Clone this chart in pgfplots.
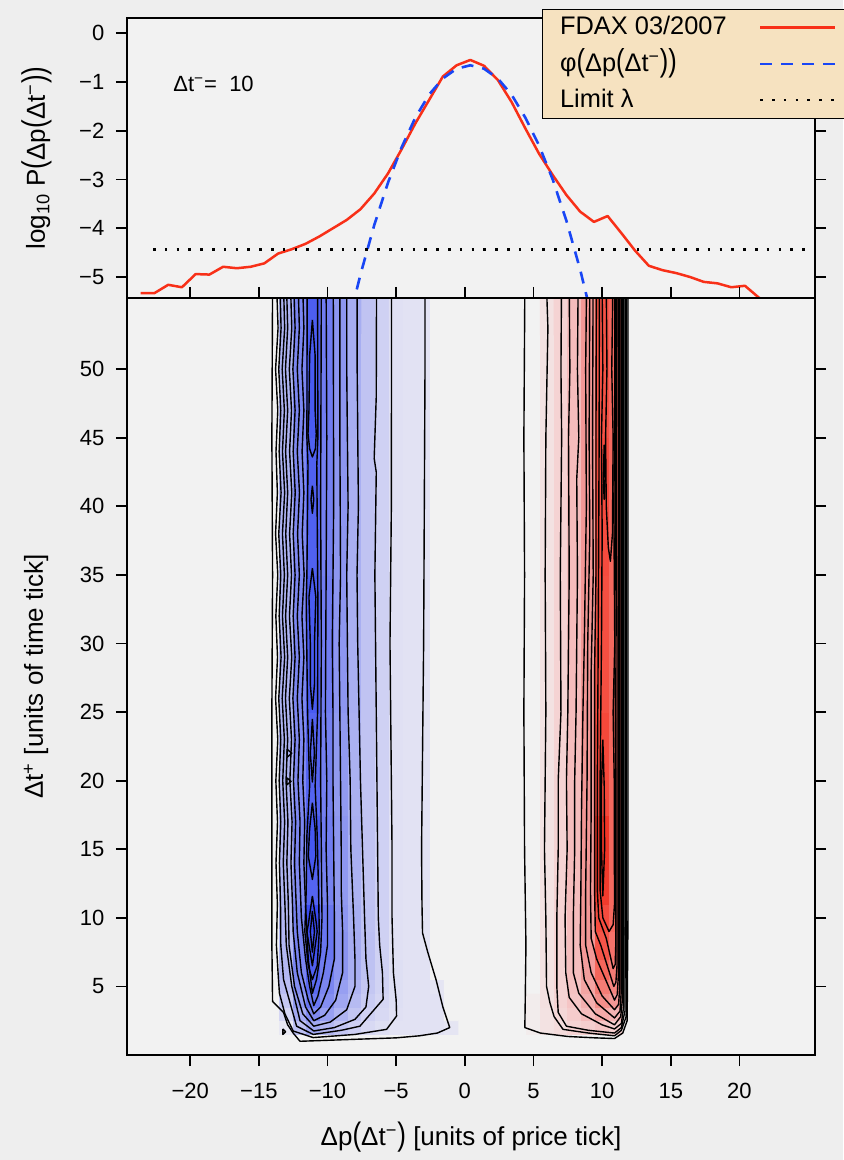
\documentclass[border=0pt]{standalone}
\usepackage{fontspec}
\setmainfont{Liberation Sans}
\usepackage{pgfplots}
\usepackage{pgfplotstable}
\pgfplotsset{compat=1.18}
\definecolor{pagebg}{RGB}{238,238,238}
\definecolor{panelbg}{RGB}{242,242,242}
\definecolor{legbg}{RGB}{246,226,192}
\definecolor{fdaxred}{RGB}{248,48,24}
\definecolor{phiblue}{RGB}{25,70,245}
\pgfplotsset{colormap={bluered}{rgb255(0cm)=(45,60,240); rgb255(1cm)=(70,88,240); rgb255(3cm)=(105,118,240); rgb255(4.5cm)=(132,142,240); rgb255(6cm)=(160,167,241); rgb255(7.5cm)=(188,192,242); rgb255(8.5cm)=(207,209,243); rgb255(9.5cm)=(226,226,243); rgb255(10cm)=(242,242,242); rgb255(10.5cm)=(243,226,226); rgb255(11.2cm)=(245,211,211); rgb255(12.5cm)=(245,188,188); rgb255(14.5cm)=(243,152,150); rgb255(17cm)=(245,105,95); rgb255(19cm)=(245,72,58); rgb255(20cm)=(238,45,30)}}
\newcommand{\lp}{\scalebox{1}[1.25]{(}}
\newcommand{\rp}{\scalebox{1}[1.25]{)}}
\newcommand{\sm}{\textsuperscript{−}}
\newcommand{\fs}[1]{\fontsize{#1}{#1}\selectfont}

\pgfplotstableread[row sep=\\]{
x y c\\
-14 1 0\\ -13 1 0\\ -12 1 0\\ -11 1 0\\ -10 1 0\\ -9 1 0\\ -8 1 0\\ -7 1 0\\ -6 1 0\\ -5 1 0\\ -4 1 0\\ -3 1 0\\ -2 1 0\\ -1 1 0\\
-14 2 0\\ -13 2 -.03\\ -12 2 -.25\\ -11 2 -.40\\ -10 2 -.30\\ -9 2 -.22\\ -8 2 -.16\\ -7 2 -.10\\ -6 2 -.07\\ -5 2 -.05\\ -4 2 -.05\\ -3 2 -.05\\ -2 2 -.05\\ -1 2 -.04\\
-14 3 0\\ -13 3 -.12\\ -12 3 -.38\\ -11 3 -.58\\ -10 3 -.45\\ -9 3 -.32\\ -8 3 -.22\\ -7 3 -.15\\ -6 3 -.10\\ -5 3 -.06\\ -4 3 -.05\\ -3 3 -.05\\ -2 3 -.05\\ -1 3 0\\
-14 4 0\\ -13 4 -.20\\ -12 4 -.48\\ -11 4 -.70\\ -10 4 -.55\\ -9 4 -.40\\ -8 4 -.28\\ -7 4 -.18\\ -6 4 -.12\\ -5 4 -.07\\ -4 4 -.05\\ -3 4 -.05\\ -2 4 -.05\\ -1 4 0\\
-14 5 0\\ -13 5 -.26\\ -12 5 -.55\\ -11 5 -.78\\ -10 5 -.60\\ -9 5 -.45\\ -8 5 -.32\\ -7 5 -.21\\ -6 5 -.14\\ -5 5 -.07\\ -4 5 -.05\\ -3 5 -.05\\ -2 5 -.04\\ -1 5 0\\
-14 6 0\\ -13 6 -.30\\ -12 6 -.60\\ -11 6 -.85\\ -10 6 -.65\\ -9 6 -.50\\ -8 6 -.35\\ -7 6 -.24\\ -6 6 -.15\\ -5 6 -.07\\ -4 6 -.05\\ -3 6 -.05\\ -2 6 0\\ -1 6 0\\
-14 8 0\\ -13 8 -.30\\ -12 8 -.62\\ -11 8 -.92\\ -10 8 -.70\\ -9 8 -.52\\ -8 8 -.37\\ -7 8 -.25\\ -6 8 -.15\\ -5 8 -.06\\ -4 8 -.05\\ -3 8 -.05\\ -2 8 0\\ -1 8 0\\
-14 10 0\\ -13 10 -.30\\ -12 10 -.62\\ -11 10 -.95\\ -10 10 -.70\\ -9 10 -.50\\ -8 10 -.36\\ -7 10 -.24\\ -6 10 -.15\\ -5 10 -.06\\ -4 10 -.05\\ -3 10 -.05\\ -2 10 0\\ -1 10 0\\
-14 12 0\\ -13 12 -.32\\ -12 12 -.56\\ -11 12 -.82\\ -10 12 -.62\\ -9 12 -.48\\ -8 12 -.34\\ -7 12 -.23\\ -6 12 -.15\\ -5 12 -.06\\ -4 12 -.05\\ -3 12 -.05\\ -2 12 0\\ -1 12 0\\
-14 15 0\\ -13 15 -.32\\ -12 15 -.60\\ -11 15 -.90\\ -10 15 -.66\\ -9 15 -.50\\ -8 15 -.35\\ -7 15 -.23\\ -6 15 -.15\\ -5 15 -.06\\ -4 15 -.05\\ -3 15 -.05\\ -2 15 0\\ -1 15 0\\
-14 20 0\\ -13 20 -.33\\ -12 20 -.58\\ -11 20 -.82\\ -10 20 -.64\\ -9 20 -.48\\ -8 20 -.34\\ -7 20 -.23\\ -6 20 -.15\\ -5 20 -.06\\ -4 20 -.05\\ -3 20 -.05\\ -2 20 0\\ -1 20 0\\
-14 30 0\\ -13 30 -.33\\ -12 30 -.60\\ -11 30 -.88\\ -10 30 -.66\\ -9 30 -.50\\ -8 30 -.35\\ -7 30 -.23\\ -6 30 -.15\\ -5 30 -.06\\ -4 30 -.05\\ -3 30 -.05\\ -2 30 0\\ -1 30 0\\
-14 40 0\\ -13 40 -.33\\ -12 40 -.58\\ -11 40 -.84\\ -10 40 -.64\\ -9 40 -.50\\ -8 40 -.35\\ -7 40 -.23\\ -6 40 -.15\\ -5 40 -.06\\ -4 40 -.05\\ -3 40 -.05\\ -2 40 0\\ -1 40 0\\
-14 50 0\\ -13 50 -.33\\ -12 50 -.60\\ -11 50 -.88\\ -10 50 -.66\\ -9 50 -.50\\ -8 50 -.36\\ -7 50 -.23\\ -6 50 -.15\\ -5 50 -.06\\ -4 50 -.05\\ -3 50 -.05\\ -2 50 0\\ -1 50 0\\
-14 55 0\\ -13 55 -.33\\ -12 55 -.60\\ -11 55 -.86\\ -10 55 -.66\\ -9 55 -.50\\ -8 55 -.36\\ -7 55 -.23\\ -6 55 -.15\\ -5 55 -.06\\ -4 55 -.05\\ -3 55 -.05\\ -2 55 0\\ -1 55 0\\
}\bluegrid

\pgfplotstableread[row sep=\\]{
x y c\\
5 1 0\\ 6 1 0\\ 7 1 0\\ 8 1 0\\ 9 1 0\\ 10 1 0\\ 11 1 0\\ 12 1 0\\
5 2 .02\\ 6 2 .05\\ 7 2 .08\\ 8 2 .12\\ 9 2 .15\\ 10 2 .20\\ 11 2 .15\\ 12 2 0\\
5 3 .02\\ 6 3 .05\\ 7 3 .10\\ 8 3 .16\\ 9 3 .25\\ 10 3 .35\\ 11 3 .30\\ 12 3 0\\
5 4 .02\\ 6 4 .06\\ 7 4 .12\\ 8 4 .20\\ 9 4 .32\\ 10 4 .50\\ 11 4 .45\\ 12 4 0\\
5 5 0\\ 6 5 .06\\ 7 5 .12\\ 8 5 .22\\ 9 5 .38\\ 10 5 .60\\ 11 5 .55\\ 12 5 0\\
5 6 0\\ 6 6 .05\\ 7 6 .12\\ 8 6 .24\\ 9 6 .42\\ 10 6 .72\\ 11 6 .60\\ 12 6 0\\
5 8 0\\ 6 8 .05\\ 7 8 .12\\ 8 8 .25\\ 9 8 .45\\ 10 8 .82\\ 11 8 .65\\ 12 8 0\\
5 10 0\\ 6 10 .05\\ 7 10 .12\\ 8 10 .25\\ 9 10 .45\\ 10 10 .88\\ 11 10 .70\\ 12 10 0\\
5 12 0\\ 6 12 .05\\ 7 12 .12\\ 8 12 .25\\ 9 12 .45\\ 10 12 .95\\ 11 12 .70\\ 12 12 0\\
5 15 0\\ 6 15 .05\\ 7 15 .12\\ 8 15 .25\\ 9 15 .45\\ 10 15 .97\\ 11 15 .70\\ 12 15 0\\
5 20 0\\ 6 20 .05\\ 7 20 .12\\ 8 20 .25\\ 9 20 .45\\ 10 20 .90\\ 11 20 .70\\ 12 20 0\\
5 30 0\\ 6 30 .05\\ 7 30 .12\\ 8 30 .25\\ 9 30 .45\\ 10 30 .86\\ 11 30 .70\\ 12 30 0\\
5 40 0\\ 6 40 .05\\ 7 40 .12\\ 8 40 .25\\ 9 40 .45\\ 10 40 .88\\ 11 40 .70\\ 12 40 0\\
5 50 0\\ 6 50 .05\\ 7 50 .12\\ 8 50 .25\\ 9 50 .45\\ 10 50 .84\\ 11 50 .70\\ 12 50 0\\
5 55 0\\ 6 55 .05\\ 7 55 .12\\ 8 55 .25\\ 9 55 .45\\ 10 55 .84\\ 11 55 .70\\ 12 55 0\\
}\redgrid

\pgfplotsset{
  panel/.style={scale only axis, width=344pt, xmin=-24.6, xmax=25.5,
    axis line style={line width=0.9pt}, tick style={black, line width=0.9pt},
    major tick length=5.5pt, tick align=outside,
    axis background/.style={fill=panelbg}, axis on top,
    tick label style={font=\fs{11}}, label style={font=\fs{13}},
    yticklabel pos=left, ytick pos=both, yticklabel style={xshift=-2.3pt}},
  ct/.style={black, line width=0.7pt, line join=round},
}

\begin{document}
\begin{tikzpicture}
\fill[pagebg] (-63.5pt,-52.5pt) rectangle (358pt,527.5pt);
\useasboundingbox (-63.5pt,-52.5pt) rectangle (358pt,527.5pt);

% ---------- top panel ----------
\begin{axis}[panel, at={(0pt,378.5pt)}, anchor=south west, height=140pt,
  ymin=-5.43, ymax=0.31, xtick=\empty,
  ytick={-5,-4,-3,-2,-1,0}, yticklabels={−5,−4,−3,−2,−1,0},
  ylabel={log\textsubscript{10} P\lp Δp\lp Δt\sm\rp\rp},
  ylabel style={at={(axis description cs:-0.1192,0.5)}, anchor=base},
  legend style={at={(axis description cs:0.6032,1.032)}, anchor=north west,
    fill=legbg, draw=black, line width=0.6pt, inner xsep=6.5pt, inner ysep=0pt,
    row sep=0pt, font=\fs{12.7},
    nodes={inner sep=2.25pt, text height=10.4pt, text depth=3.2pt},
    legend cell align=left},
  legend plot pos=right,
  legend image code/.code={\path[draw=none] (0pt,0pt) -- (52pt,0pt); \draw[#1] (14.5pt,0pt) -- (52pt,0pt);},
]
\addplot[fdaxred, line width=1.25pt, line join=round] coordinates {
(-23.6,-5.33) (-22.6,-5.33) (-21.6,-5.16) (-20.6,-5.21) (-19.6,-4.94) (-18.6,-4.95)
(-17.6,-4.79) (-16.6,-4.82) (-15.6,-4.79) (-14.6,-4.72) (-13.6,-4.52) (-12.6,-4.43)
(-11.6,-4.32) (-10.6,-4.17) (-9.6,-4.0) (-8.6,-3.83) (-7.6,-3.61) (-6.6,-3.29)
(-5.6,-2.88) (-4.6,-2.38) (-3.6,-1.85) (-2.6,-1.37) (-1.6,-0.89) (-0.6,-0.66)
(0.4,-0.55) (1.4,-0.67) (2.4,-0.96) (3.4,-1.41) (4.4,-1.95) (5.4,-2.47) (6.4,-2.91)
(7.4,-3.32) (8.4,-3.66) (9.4,-3.87) (10.4,-3.75) (11.4,-4.1) (12.4,-4.46) (13.4,-4.77)
(14.4,-4.86) (15.4,-4.92) (16.4,-5.0) (17.4,-5.1) (18.4,-5.13) (19.4,-5.21) (20.4,-5.18)
(21.4,-5.42) (22.4,-5.6)};
\addlegendentry{FDAX 03/2007}
\addplot[phiblue, line width=1.3pt, dash pattern=on 6pt off 4.5pt] coordinates {
(-8.6,-6.09) (-7.6,-4.95) (-6.6,-3.94) (-5.6,-3.07) (-4.6,-2.34) (-3.6,-1.73)
(-2.6,-1.26) (-1.6,-0.93) (-0.6,-0.73) (0.4,-0.66) (1.4,-0.73) (2.4,-0.93)
(3.4,-1.26) (4.4,-1.73) (5.4,-2.3) (6.4,-3.0) (7.4,-3.85) (8.4,-4.85) (9.4,-6.0)};
\addlegendentry{φ\lp Δp\lp Δt\sm\rp\rp}
\addplot[black, line width=1.3pt, dash pattern=on 1.3pt off 4.6pt] coordinates {(-22.7,-4.43) (25.0,-4.43)};
\addlegendentry{Limit λ}
\node[anchor=base west, font=\fs{11}, inner sep=0pt] at (axis cs:-21.25,-1.2) {Δt\sm=\ \ 10};
\end{axis}

% ---------- bottom panel ----------
\begin{axis}[panel, at={(0pt,0pt)}, anchor=south west, height=378.5pt,
  ymin=0, ymax=55.19, y dir=normal,
  xtick={-20,-15,...,20}, xticklabels={−20,−15,−10,−5,0,5,10,15,20},
  xticklabel pos=bottom, xtick pos=both, xticklabel style={yshift=-5pt},
  ytick={5,10,...,50}, yticklabels={5,10,15,20,25,30,35,40,45,50},
  colormap name=bluered, point meta min=-1, point meta max=1,
  xlabel={Δp\lp Δt\sm\rp\ [units of price tick]},
  xlabel style={at={(axis description cs:0.5,0)}, anchor=base, yshift=-45pt},
  ylabel={Δt\textsuperscript{+} [units of time tick]},
  ylabel style={at={(axis description cs:-0.1221,0.5)}, anchor=base},
]
\addplot[surf, shader=flat corner, mesh input=image, mesh/cols=14, point meta=explicit] table[meta=c] {\bluegrid};
\addplot[surf, shader=flat corner, mesh input=image, mesh/cols=8, point meta=explicit] table[meta=c] {\redgrid};

% blue contours
\addplot[ct] coordinates {(-14.0,56) (-14.05,45) (-14.0,35) (-14.05,25) (-14.05,15) (-14.05,8) (-14.0,3.9) (-13.2,3.1) (-12.9,2.2) (-12.5,1.6) (-12.0,1.0) (-8.1,1.14) (-5.0,1.25) (-3.3,1.4) (-2.0,1.6) (-1.1,2.0) (-1.6,3.5) (-2.1,5.5) (-2.7,7.5) (-3.08,8.9) (-3.12,11) (-3.15,15) (-3.05,25) (-3.0,30) (-2.95,40) (-2.9,50) (-2.9,56)};
\addplot[ct] coordinates {(-13.7,56) (-13.6,53) (-13.78,50) (-13.62,47) (-13.75,44) (-13.65,41) (-13.78,38) (-13.62,35) (-13.76,32) (-13.64,29) (-13.78,26) (-13.62,23) (-13.76,20) (-13.64,17) (-13.75,14) (-13.65,11) (-13.72,8) (-13.6,6) (-13.5,4.5) (-13.1,3.0) (-12.5,1.75) (-11.04,1.27) (-8.0,1.5) (-5.7,1.87) (-4.97,2.84) (-5.0,4.0) (-5.2,6.0) (-5.25,8) (-5.3,10) (-5.3,15) (-5.35,20) (-5.4,25) (-5.45,30) (-5.4,35) (-5.35,40) (-5.34,50) (-5.34,56)};
\addplot[ct] coordinates {(-13.46,56) (-13.38,53) (-13.55,50) (-13.4,47) (-13.52,44) (-13.38,41) (-13.55,38) (-13.4,35) (-13.52,32) (-13.38,29) (-13.55,26) (-13.4,23) (-13.52,20) (-13.4,17) (-13.5,14) (-13.42,11) (-13.4,8) (-13.2,5.5) (-12.25,2.1) (-11.04,1.5) (-9.0,1.8) (-7.64,2.1) (-5.95,4.06) (-6.0,6) (-6.2,8) (-6.3,10) (-6.35,15) (-6.4,20) (-6.45,25) (-6.5,30) (-6.55,35) (-6.45,42.5) (-6.6,43.5) (-6.45,48) (-6.43,56)};
\addplot[ct] coordinates {(-13.2,56) (-13.12,53) (-13.3,50) (-13.14,47) (-13.28,44) (-13.12,41) (-13.28,38) (-13.14,35) (-13.28,32) (-13.12,29) (-13.3,26) (-13.14,23) (-13.26,20) (-13.12,17) (-13.22,14) (-13.1,11) (-13.0,8) (-12.6,5) (-12.0,2.5) (-11.0,1.75) (-9.5,2.0) (-8.0,2.6) (-7.2,3.5) (-7.0,5) (-7.2,7) (-7.3,10) (-7.45,15) (-7.6,20) (-7.7,25) (-7.8,30) (-7.85,35) (-7.75,40) (-7.84,50) (-7.84,56)};
\addplot[ct] coordinates {(-12.98,56) (-12.9,53) (-13.06,50) (-12.9,47) (-13.05,44) (-12.9,41) (-13.04,38) (-12.9,35) (-13.05,32) (-12.9,29) (-13.06,26) (-12.9,23) (-13.02,20) (-12.88,17) (-12.96,14) (-12.85,11) (-12.8,8) (-12.4,5) (-11.8,3) (-11.0,2.1) (-9.8,2.4) (-8.6,3.3) (-8.0,5) (-8.0,7) (-8.1,10) (-8.3,15) (-8.35,20) (-8.5,25) (-8.55,30) (-8.6,35) (-8.5,40) (-8.6,50) (-8.6,56)};
\addplot[ct] coordinates {(-12.69,56) (-12.6,53) (-12.78,50) (-12.62,47) (-12.76,44) (-12.6,41) (-12.76,38) (-12.62,35) (-12.77,32) (-12.6,29) (-12.78,26) (-12.62,23) (-12.74,20) (-12.58,17) (-12.66,14) (-12.55,11) (-12.5,9) (-12.2,6) (-11.6,3.5) (-11.0,2.5) (-10.2,2.9) (-9.4,4) (-8.9,6) (-8.9,9) (-9.0,12) (-9.0,15) (-9.05,20) (-9.1,25) (-9.15,30) (-9.05,35) (-9.1,45) (-9.1,56)};
\addplot[ct] coordinates {(-12.45,56) (-12.36,53) (-12.52,50) (-12.36,47) (-12.5,44) (-12.35,41) (-12.5,38) (-12.36,35) (-12.5,32) (-12.36,29) (-12.52,26) (-12.36,23) (-12.48,20) (-12.32,17) (-12.4,14) (-12.28,11) (-12.2,9) (-11.9,6) (-11.4,4) (-11.0,3.0) (-10.5,3.5) (-9.9,5) (-9.5,7) (-9.5,10) (-9.55,15) (-9.6,20) (-9.6,25) (-9.65,30) (-9.55,40) (-9.58,56)};
\addplot[ct] coordinates {(-12.13,56) (-12.05,53) (-12.2,50) (-12.05,47) (-12.2,44) (-12.04,41) (-12.18,38) (-12.05,35) (-12.2,32) (-12.05,29) (-12.2,26) (-12.05,23) (-12.15,20) (-12.0,17) (-12.05,14) (-11.9,10) (-11.6,7) (-11.3,5) (-11.0,3.6) (-10.7,4.3) (-10.3,6) (-10.0,8) (-10.0,11) (-10.1,15) (-10.05,20) (-10.15,25) (-10.1,35) (-10.05,45) (-10.1,56)};
\addplot[ct] coordinates {(-11.8,56) (-11.72,53) (-11.86,50) (-11.72,47) (-11.85,44) (-11.72,41) (-11.84,38) (-11.7,35) (-11.86,32) (-11.72,29) (-11.86,26) (-11.72,23) (-11.8,20) (-11.66,17) (-11.72,14) (-11.6,11) (-11.4,7) (-11.1,4.5) (-10.8,5.5) (-10.5,7.5) (-10.4,10) (-10.45,15) (-10.5,20) (-10.45,30) (-10.5,40) (-10.45,56)};
\addplot[ct] coordinates {(-11.48,56) (-11.5,45) (-11.42,43) (-11.5,35) (-11.55,33) (-11.45,25) (-11.3,19.6) (-11.5,16) (-11.55,12) (-11.65,9) (-11.4,6.5) (-11.1,5.5) (-10.75,6.5) (-10.6,9) (-10.65,12) (-10.75,16) (-10.9,19.6) (-10.72,25) (-10.7,33) (-10.78,43) (-10.7,45) (-10.72,56)};
\addplot[ct] coordinates {(-11.1,53.6) (-11.3,51) (-11.35,47) (-11.42,45.3) (-11.3,44.2) (-11.1,43.6) (-10.88,44.2) (-10.82,45.3) (-10.9,47) (-10.9,51) (-11.1,53.6)};
\addplot[ct] coordinates {(-11.1,41.5) (-11.2,40.5) (-11.1,39.5) (-11.0,40.5) (-11.1,41.5)};
\addplot[ct] coordinates {(-11.1,35.5) (-11.35,33.4) (-11.25,30) (-11.25,27) (-11.1,25.2) (-10.95,27) (-10.95,30) (-10.85,33.4) (-11.1,35.5)};
\addplot[ct] coordinates {(-11.1,24.5) (-11.25,22) (-11.1,19.9) (-10.95,22) (-11.1,24.5)};
\addplot[ct] coordinates {(-11.1,18.4) (-11.3,16.5) (-11.4,14.5) (-11.1,12.8) (-10.85,14.5) (-10.9,16.5) (-11.1,18.4)};
\addplot[ct] coordinates {(-11.1,11.6) (-11.4,9.5) (-11.5,9) (-11.1,6.5) (-10.75,9) (-10.8,9.5) (-11.1,11.6)};
\addplot[ct] coordinates {(-11.1,10.5) (-11.25,9) (-11.1,7.5) (-10.95,9) (-11.1,10.5)};
\addplot[ct] coordinates {(-12.95,22.3) (-12.6,22.0) (-12.95,21.7) (-12.95,22.3)};
\addplot[ct] coordinates {(-12.95,20.2) (-12.65,19.95) (-12.95,19.7) (-12.95,20.2)};
\addplot[ct] coordinates {(-13.25,1.9) (-13.05,1.7) (-13.25,1.5) (-13.25,1.9)};

% red contours
\addplot[ct] coordinates {(4.37,56) (4.3,45) (4.35,35) (4.3,25) (4.35,15) (4.45,8) (4.4,4) (4.37,2.0) (5.5,1.6) (7.5,1.35) (9.5,1.25) (10.9,1.2) (11.5,1.6) (11.82,2.5) (11.88,10) (11.88,56)};
\addplot[ct] coordinates {(5.95,56) (6.05,53) (5.9,45) (5.85,35) (5.9,25) (5.8,15) (5.9,10) (5.95,5) (6.2,3.8) (6.5,2.8) (7.15,1.87) (9.0,1.6) (10.9,1.4) (11.4,1.8) (11.75,2.8) (11.78,10) (11.78,56)};
\addplot[ct] coordinates {(7.04,56) (7.0,50) (7.05,45) (6.95,35) (7.0,25) (6.8,20) (6.8,15) (6.7,10) (6.7,5) (6.8,3.1) (7.4,2.1) (9.0,1.8) (10.9,1.6) (11.4,2.0) (11.66,3.2) (11.68,10) (11.68,56)};
\addplot[ct] coordinates {(7.6,56) (7.65,50) (7.55,45) (7.6,35) (7.5,25) (7.4,20) (7.45,15) (7.3,10) (7.35,6) (7.6,4.2) (8.5,3.0) (10.0,2.2) (10.9,1.9) (11.4,2.3) (11.56,3.5) (11.58,10) (11.58,56)};
\addplot[ct] coordinates {(8.25,56) (8.2,50) (8.3,45) (8.15,42) (8.2,35) (8.1,25) (8.0,20) (8.0,15) (7.9,10) (7.9,6) (8.3,4.5) (9.5,3.0) (10.9,2.2) (11.35,2.8) (11.47,4) (11.48,10) (11.48,56)};
\addplot[ct] coordinates {(8.86,56) (8.8,50) (8.85,40) (8.7,30) (8.6,25) (8.5,18) (8.45,12) (8.4,8) (8.7,5.5) (9.6,3.8) (10.9,2.7) (11.3,3.2) (11.38,4.5) (11.38,10) (11.38,56)};
\addplot[ct] coordinates {(9.1,56) (9.05,45) (9.1,38) (8.95,30) (8.9,20) (8.8,12) (8.8,8) (9.2,6) (10.0,4.3) (10.9,3.3) (11.2,3.7) (11.28,5) (11.28,56)};
\addplot[ct] coordinates {(9.34,56) (9.3,45) (9.35,35) (9.2,28) (9.2,18) (9.15,12) (9.2,8.5) (9.6,7) (10.9,4.0) (11.1,4.4) (11.18,5.8) (11.18,56)};
\addplot[ct] coordinates {(9.58,56) (9.55,45) (9.55,35) (9.45,28) (9.45,18) (9.45,12) (9.5,9) (9.9,8.0) (10.85,5.0) (11.0,5.3) (11.08,6.5) (11.08,30) (11.03,40) (11.08,56)};
\addplot[ct] coordinates {(9.8,56) (9.78,45) (9.75,38) (9.7,28) (9.65,20) (9.65,12) (9.75,10) (10.3,8.5) (10.8,6.3) (10.95,6.6) (10.99,8) (10.98,20) (10.93,30) (10.99,56)};
\addplot[ct] coordinates {(10.0,56) (10.05,50) (9.95,45) (10.0,38) (9.95,30) (9.9,25) (9.85,20) (9.85,12) (10.05,10) (10.5,9.0) (10.8,9.5) (10.9,11) (10.88,20) (10.8,25) (10.92,30) (10.85,40) (10.92,48) (10.92,56)};
\addplot[ct] coordinates {(10.3,56) (10.35,50) (10.25,45) (10.3,40) (10.45,37) (10.6,36) (10.75,38) (10.8,45) (10.7,50) (10.78,56)};
\addplot[ct] coordinates {(10.05,23) (10.15,19.6) (10.18,15) (10.05,11.6) (9.95,15) (9.95,19.6) (10.05,23)};
\addplot[ct] coordinates {(10.15,44.5) (10.22,42) (10.15,40.5) (10.08,42) (10.15,44.5)};
\end{axis}
\end{tikzpicture}
\end{document}
